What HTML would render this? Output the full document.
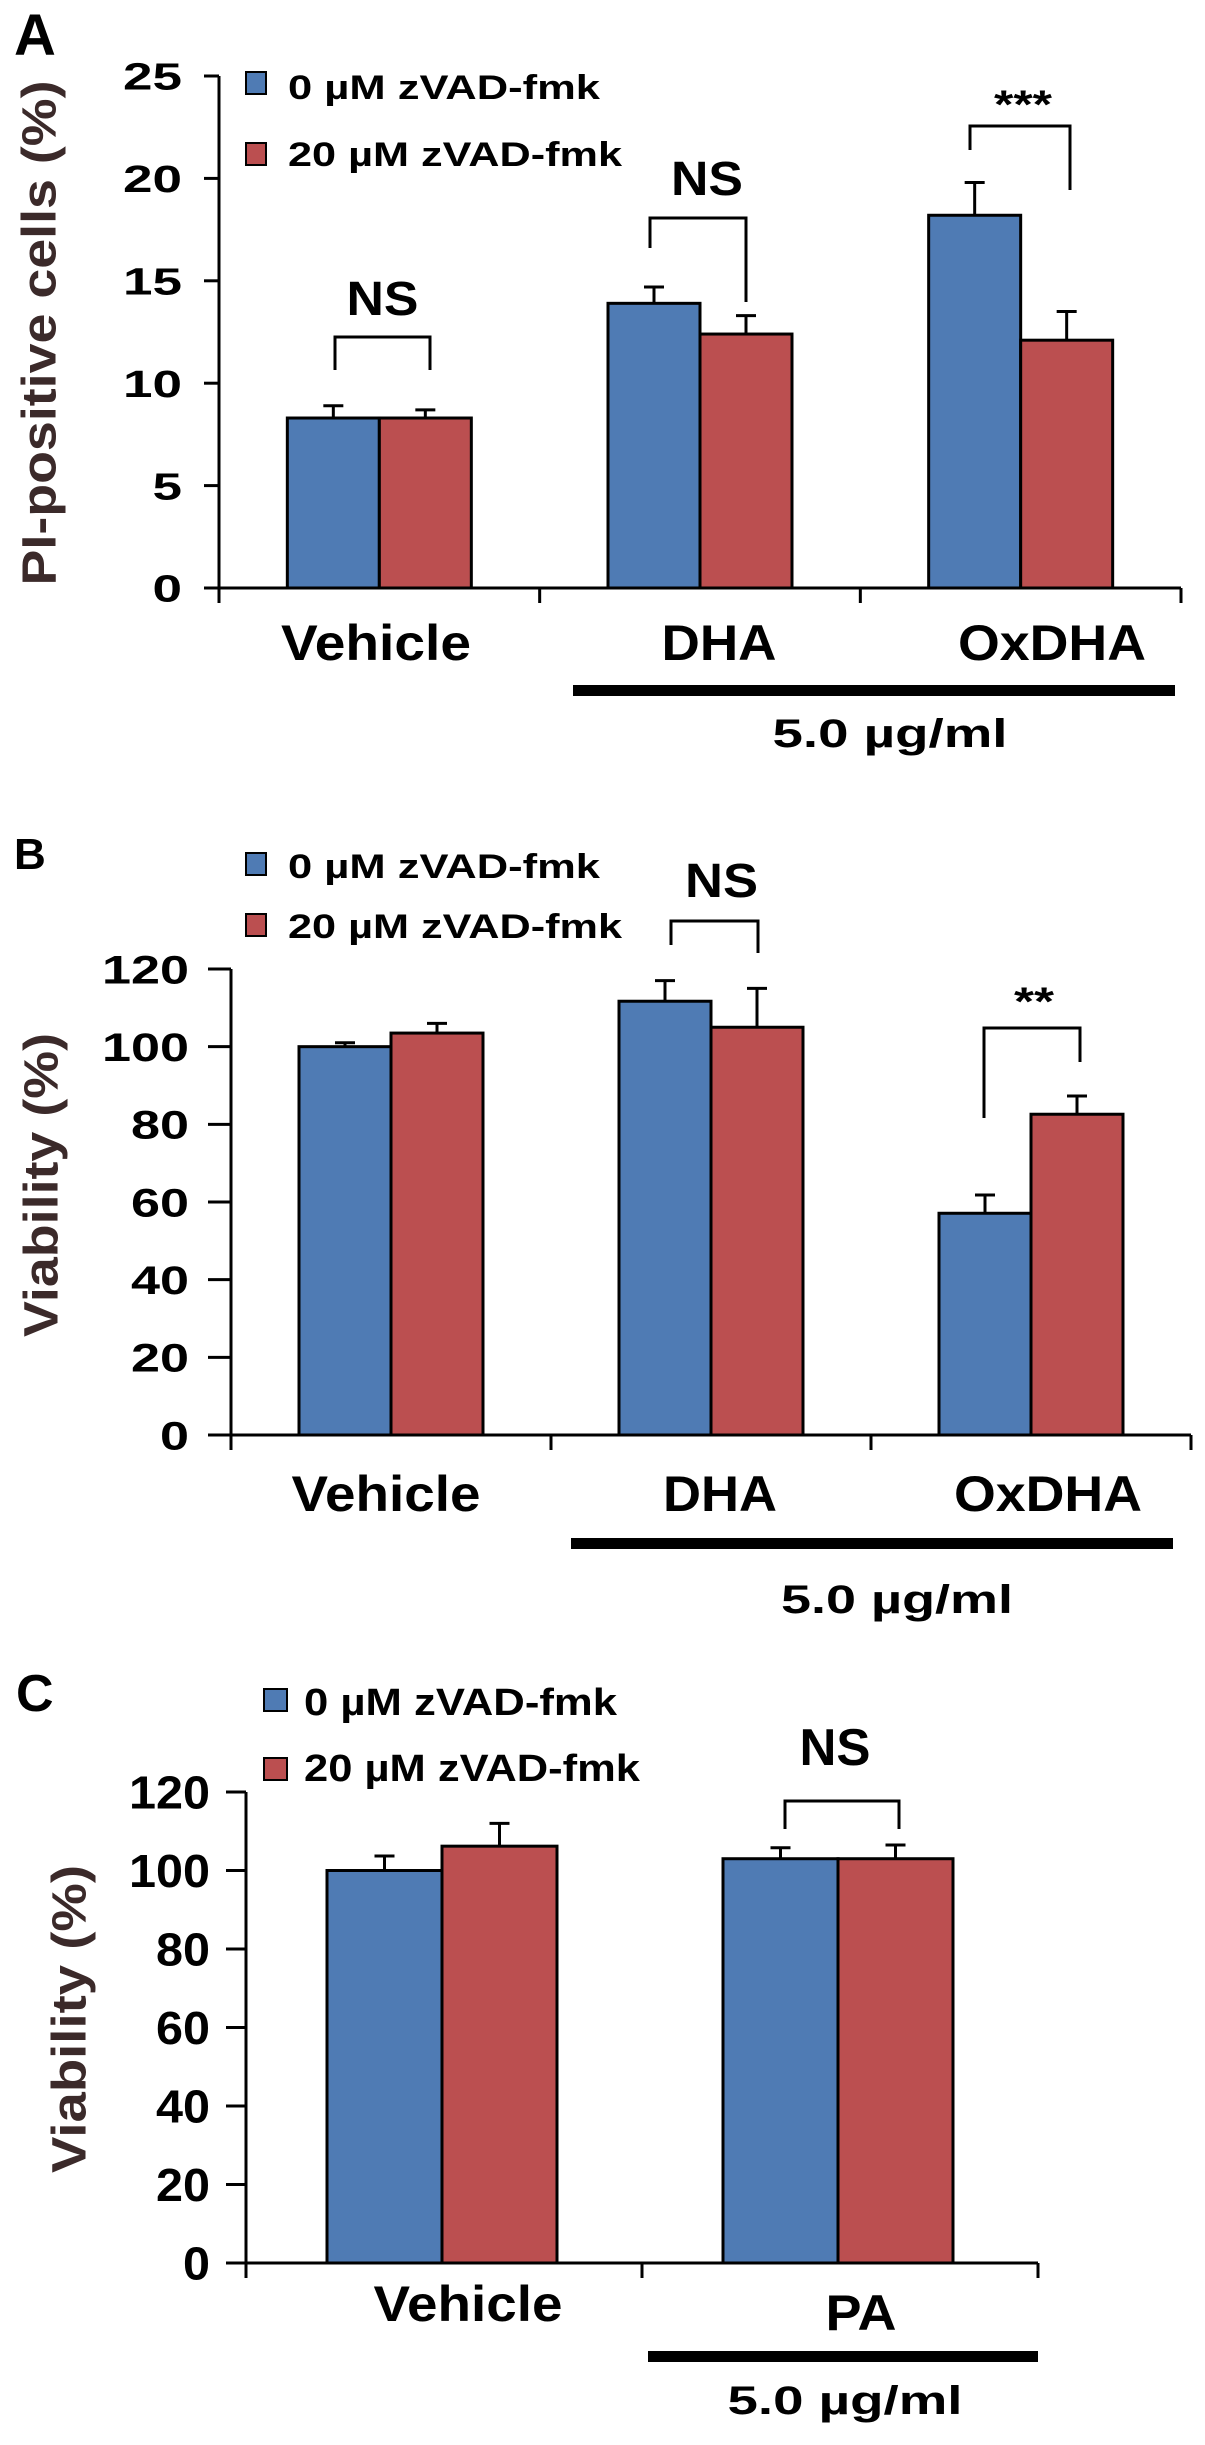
<!DOCTYPE html>
<html><head><meta charset="utf-8"><style>
html,body{margin:0;padding:0;background:#fff}
svg{display:block}
text{font-family:"Liberation Sans",Arial,sans-serif;font-weight:bold;fill:#000}
</style></head><body>
<svg id="fig" width="1205" height="2445" viewBox="0 0 1205 2445" xmlns="http://www.w3.org/2000/svg"></svg>
<script>
// Panel A data
const catsA = ["Vehicle", "DHA", "OxDHA"];
const blueA = [8.3, 13.9, 18.2];
const blueErrA = [0.6, 0.8, 1.6];
const redA = [8.3, 12.4, 12.1];
const redErrA = [0.4, 0.9, 1.4];
const ticksA = [0, 5, 10, 15, 20, 25];
// Panel B data
const catsB = ["Vehicle", "DHA", "OxDHA"];
const blueB = [100, 111.7, 57.1];
const blueErrB = [1, 5.3, 4.7];
const redB = [103.5, 105, 82.6];
const redErrB = [2.5, 10, 4.7];
const ticksB = [0, 20, 40, 60, 80, 100, 120];
// Panel C data
const catsC = ["Vehicle", "PA"];
const blueC = [100, 103];
const blueErrC = [3.7, 2.8];
const redC = [106.2, 103];
const redErrC = [5.8, 3.5];
const ticksC = [0, 20, 40, 60, 80, 100, 120];

const NS = "http://www.w3.org/2000/svg";
const svg = document.getElementById('fig');
const BLUE = "#4f7bb4", RED = "#bb4f50";
function mk(tag, attrs, parent) {
  const e = document.createElementNS(NS, tag);
  for (const k in attrs) e.setAttribute(k, attrs[k]);
  (parent || svg).appendChild(e);
  return e;
}
function txt(s, x, y, size, anchor, len, parent) {
  const t = mk('text', {x: x, y: y, 'font-size': size, 'text-anchor': anchor || 'middle'}, parent);
  if (len) { t.setAttribute('textLength', len); t.setAttribute('lengthAdjust', 'spacingAndGlyphs'); }
  t.textContent = s;
  return t;
}

function panel(cfg) {
  const g = mk('g', {});
  
  
  const yS = v => cfg.y0 - (v - cfg.vmin) * (cfg.y0 - cfg.yTop) / (cfg.vmax - cfg.vmin);
  // letter
  const L = txt(cfg.id, cfg.letter[0], cfg.letter[1], cfg.letter[2], 'start', null, g);
  
  
  // y title
  const yt = txt(cfg.ytitle, 0, 0, 48, 'middle', cfg.ytLen, g);
  yt.setAttribute('transform', `translate(${cfg.ytX},${cfg.ytY}) rotate(-90)`);
  yt.setAttribute('fill', '#3b2a2a');
  yt.style.fill = '#3b2a2a';
  yt.setAttribute('dominant-baseline', 'central');
  
  
  // legend
  cfg.legend.forEach((lg, i) => {
    const r = mk('rect', {x: lg.sx, y: lg.sy, width: lg.sw, height: lg.sh, fill: i ? RED : BLUE, stroke: '#000', 'stroke-width': 2}, g);
    
    
    const t = txt(lg.label, lg.tx, lg.ty, cfg.legSize, 'start', lg.tl, g);
    
    
  });
  // y axis
  const ya = mk('line', {x1: cfg.ax, y1: cfg.y0, x2: cfg.ax, y2: yS(cfg.ticks[cfg.ticks.length - 1]), stroke: '#000', 'stroke-width': 3}, g);
  
  
  cfg.ticks.forEach(v => {
    const y = yS(v);
    const tk = mk('line', {x1: cfg.tickL, y1: y, x2: cfg.ax, y2: y, stroke: '#000', 'stroke-width': 3}, g);
    
    
    const s = String(v);
    const t = txt(s, cfg.tlx, y + cfg.tlSize * 0.36, cfg.tlSize, 'end', s.length * cfg.tlW, g);
    
    
  });
  // x axis
  const xa = mk('line', {x1: cfg.tickL, y1: cfg.y0, x2: cfg.xEnd, y2: cfg.y0, stroke: '#000', 'stroke-width': 3}, g);
  
  
  const n = cfg.cats.length;
  const slot = (cfg.xEnd - cfg.ax) / n;
  for (let i = 0; i <= n; i++) {
    const x = cfg.ax + slot * i;
    const tk = mk('line', {x1: x, y1: cfg.y0, x2: x, y2: cfg.y0 + 15, stroke: '#000', 'stroke-width': 3}, g);
    
    
  }
  cfg.cats.forEach((c, i) => {
    const cx = cfg.ax + slot * (i + 0.5) + cfg.shift;
    const series = [[cfg.blue, cfg.blueErr, BLUE, 'blue'], [cfg.red, cfg.redErr, RED, 'red']];
    series.forEach((s, j) => {
      const x = j === 0 ? cx - cfg.bw : cx;
      const top = yS(s[0][i]);
      const b = mk('rect', {x: x, y: top, width: cfg.bw, height: cfg.y0 - top, fill: s[2], stroke: '#000', 'stroke-width': 3}, g);
      
      
      const ex = x + cfg.bw / 2, et = yS(s[0][i] + s[1][i]);
      const e1 = mk('line', {x1: ex, y1: top, x2: ex, y2: et, stroke: '#000', 'stroke-width': 3}, g);
      
      
      const e2 = mk('line', {x1: ex - 10, y1: et, x2: ex + 10, y2: et, stroke: '#000', 'stroke-width': 3}, g);
      
      
    });
    const lb = cfg.catLabels[i];
    const t = txt(c, lb[0], lb[1], 50, 'middle', lb[2], g);
    
    
  });
  // brackets
  cfg.brackets.forEach(bk => {
    const p = mk('path', {d: `M${bk.x1},${bk.l} V${bk.top} H${bk.x2} V${bk.r}`, fill: 'none', stroke: '#000', 'stroke-width': 3}, g);
    
    
    const t = txt(bk.label, (bk.x1 + bk.x2) / 2 + (bk.dx || 0), bk.ty, bk.size, 'middle', bk.tl, g);
    
    
  });
  // concentration bar
  const cb = mk('rect', {x: cfg.conc[0], y: cfg.conc[1], width: cfg.conc[2] - cfg.conc[0], height: 11, fill: '#000'}, g);
  
  
  const ct = txt('5.0 µg/ml', cfg.conc[3], cfg.conc[4], 40, 'middle', cfg.conc[5], g);
  
  
}

panel({id: 'A', letter: [14, 55, 58], ytitle: 'PI-positive cells (%)', ytX: 40, ytY: 333, ytLen: 505,
  legSize: 34, legend: [
    {label: '0 µM zVAD-fmk', sx: 246, sy: 72, sw: 20, sh: 22, tx: 288, ty: 99, tl: 312},
    {label: '20 µM zVAD-fmk', sx: 246, sy: 143, sw: 20, sh: 22, tx: 288, ty: 166, tl: 334}],
  ax: 219, tickL: 204, xEnd: 1181, y0: 588, yTop: 76, vmin: 0, vmax: 25, ticks: ticksA,
  tlx: 182, tlSize: 38, tlW: 29.5, cats: catsA, blue: blueA, blueErr: blueErrA, red: redA, redErr: redErrA,
  bw: 92, shift: 0,
  catLabels: [[376, 660, 190], [719, 660, 115], [1052, 660, 188]],
  brackets: [
    {x1: 335, x2: 430, top: 337, l: 370, r: 370, label: 'NS', ty: 315, size: 48, tl: 72},
    {x1: 650, x2: 746, top: 218, l: 248, r: 302, label: 'NS', ty: 195, size: 48, tl: 72, dx: 9},
    {x1: 970, x2: 1070, top: 126, l: 150, r: 190, label: '***', ty: 118, size: 40, tl: 58, dx: 3}],
  conc: [573, 685, 1175, 890, 747, 235]});

panel({id: 'B', letter: [14, 869, 44], ytitle: 'Viability (%)', ytX: 42, ytY: 1185, ytLen: 304,
  legSize: 34, legend: [
    {label: '0 µM zVAD-fmk', sx: 246, sy: 853, sw: 20, sh: 22, tx: 288, ty: 878, tl: 312},
    {label: '20 µM zVAD-fmk', sx: 246, sy: 914, sw: 20, sh: 22, tx: 288, ty: 938, tl: 334}],
  ax: 231, tickL: 208, xEnd: 1191, y0: 1435, yTop: 969, vmin: 0, vmax: 120, ticks: ticksB,
  tlx: 189, tlSize: 40, tlW: 29, cats: catsB, blue: blueB, blueErr: blueErrB, red: redB, redErr: redErrB,
  bw: 92, shift: 0,
  catLabels: [[386, 1511, 189], [720, 1511, 114], [1048, 1511, 188]],
  brackets: [
    {x1: 671, x2: 758, top: 921, l: 945, r: 953, label: 'NS', ty: 897, size: 48, tl: 73, dx: 7},
    {x1: 984, x2: 1080, top: 1028, l: 1118, r: 1062, label: '**', ty: 1015, size: 40, tl: 40, dx: 2}],
  conc: [571, 1538, 1173, 897, 1613, 232]});

panel({id: 'C', letter: [16, 1711, 52], ytitle: 'Viability (%)', ytX: 70, ytY: 2019, ytLen: 308,
  legSize: 38, legend: [
    {label: '0 µM zVAD-fmk', sx: 264, sy: 1689, sw: 23, sh: 22, tx: 304, ty: 1715, tl: 313},
    {label: '20 µM zVAD-fmk', sx: 264, sy: 1758, sw: 23, sh: 22, tx: 304, ty: 1781, tl: 336}],
  ax: 246, tickL: 226, xEnd: 1038, y0: 2263, yTop: 1792, vmin: 0, vmax: 120, ticks: ticksC,
  tlx: 210, tlSize: 46, tlW: 27, cats: catsC, blue: blueC, blueErr: blueErrC, red: redC, redErr: redErrC,
  bw: 115, shift: -2,
  catLabels: [[468, 2321, 189], [861, 2330, 71]],
  brackets: [
    {x1: 785, x2: 899, top: 1801, l: 1829, r: 1829, label: 'NS', ty: 1765, size: 52, tl: 71, dx: -7}],
  conc: [648, 2351, 1038, 845, 2414, 235]});
</script>
</body></html>
